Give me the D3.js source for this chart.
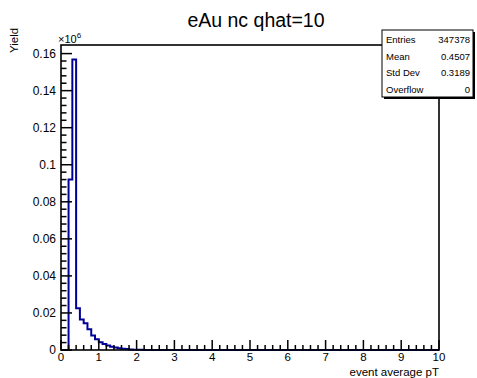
<!DOCTYPE html>
<html>
<head>
<meta charset="utf-8">
<script src="https://cdn.jsdelivr.net/npm/d3@7"></script>
<style>
  html, body { margin: 0; padding: 0; background: #fff; }
  svg { display: block; font-family: "Liberation Sans", Arial, Helvetica, sans-serif; }
</style>
</head>
<body>
<svg id="chart" width="477" height="378"></svg>
<script>
// ---- data (yield in units of 10^6, bin width 0.1 starting at 0) ----
const binStart = 0;
const binWidth = 0.1;
const binValues = [0, 0, 0.092, 0.1568, 0.0225, 0.0165, 0.0145, 0.0112, 0.0078, 0.0058,
                   0.0042, 0.0032, 0.0024, 0.0018, 0.0013, 0.0010, 0.0007, 0.0005, 0.0003, 0.0002,
                   0.0001, 0.0001, 0.00005];
const xTickValues = [0, 1, 2, 3, 4, 5, 6, 7, 8, 9, 10];
const yTickValues = [0, 0.02, 0.04, 0.06, 0.08, 0.1, 0.12, 0.14, 0.16];
const yTickLabels = ["0", "0.02", "0.04", "0.06", "0.08", "0.1", "0.12", "0.14", "0.16"];
const statNames = ["Entries", "Mean", "Std Dev", "Overflow"];
const statValues = ["347378", "0.4507", "0.3189", "0"];
const title = "eAu nc qhat=10";
const xTitle = "event average pT";
const yTitle = "Yield";

// ---- layout ----
const svg = d3.select("#chart");
const L = 61, R = 439, T = 45, B = 350;
const x = d3.scaleLinear().domain([0, 10]).range([L, R]);
const yMax = 0.1568 * 1.05;
const y = d3.scaleLinear().domain([0, yMax]).range([B, T]);

// title
svg.append("text").attr("x", 256).attr("y", 27).attr("text-anchor", "middle")
  .attr("font-size", 19.5).text(title);

// histogram step path
const pts = [[x(0), y(0)]];
binValues.forEach((v, i) => {
  const lo = binStart + i * binWidth, hi = lo + binWidth;
  pts.push([x(lo), y(v)]);
  pts.push([x(hi), y(v)]);
});
pts.push([x(binStart + binValues.length * binWidth), y(0)]);
pts.push([x(10), y(0)]);
svg.append("path").attr("d", d3.line()(pts))
  .attr("fill", "none").attr("stroke", "#000099").attr("stroke-width", 2)
  .attr("stroke-linejoin", "miter");

// axes with ROOT-style inward ticks
const xMinor = d3.range(0, 10.001, 0.2);
const yMinor = d3.range(0, 0.1601, 0.004);
const g = svg.append("g").attr("stroke", "#000");
xMinor.forEach(v => {
  const isMajor = Math.abs(v - Math.round(v)) < 1e-6;
  g.append("line").attr("x1", x(v)).attr("x2", x(v))
    .attr("y1", B).attr("y2", B - (isMajor ? 10 : 5)).attr("stroke-width", 1.5);
});
yMinor.forEach(v => {
  const isMajor = Math.abs(v / 0.02 - Math.round(v / 0.02)) < 1e-6;
  g.append("line").attr("x1", L).attr("x2", L + (isMajor ? 11 : 5.5))
    .attr("y1", y(v)).attr("y2", y(v)).attr("stroke-width", 1.5);
});

// frame
svg.append("rect").attr("x", L).attr("y", T).attr("width", R - L).attr("height", B - T)
  .attr("fill", "none").attr("stroke", "#000").attr("stroke-width", 1.6);

// tick labels
xTickValues.forEach(v => {
  svg.append("text").attr("x", x(v)).attr("y", 361).attr("text-anchor", "middle")
    .attr("font-size", 11.5).text(v);
});
yTickValues.forEach((v, i) => {
  svg.append("text").attr("x", 56).attr("y", y(v) + 4).attr("text-anchor", "end")
    .attr("font-size", 12).text(yTickLabels[i]);
});

// exponent label
const ex = svg.append("text").attr("x", 58).attr("y", 43).attr("font-size", 11);
ex.append("tspan").text("\u00d710");
ex.append("tspan").attr("dy", -5).attr("font-size", 8).text("6");

// axis titles
svg.append("text").attr("x", R).attr("y", 375.5).attr("text-anchor", "end")
  .attr("font-size", 11.5).text(xTitle);
svg.append("text").attr("transform", "translate(18,53) rotate(-90)")
  .attr("text-anchor", "start").attr("font-size", 11.5).text(yTitle);

// stats box
const bx = 382, by = 30, bw = 91, bh = 67;
svg.append("rect").attr("x", bx + 2).attr("y", by + 2).attr("width", bw).attr("height", bh)
  .attr("fill", "#000");
svg.append("rect").attr("x", bx).attr("y", by).attr("width", bw).attr("height", bh)
  .attr("fill", "#fff").attr("stroke", "#000").attr("stroke-width", 1);
statNames.forEach((n, i) => {
  const ty = by + 13 + i * 16.5;
  svg.append("text").attr("x", bx + 4).attr("y", ty).attr("font-size", 9.5).text(n);
  svg.append("text").attr("x", bx + bw - 3).attr("y", ty).attr("text-anchor", "end")
    .attr("font-size", 9.5).text(statValues[i]);
});
</script>
</body>
</html>
